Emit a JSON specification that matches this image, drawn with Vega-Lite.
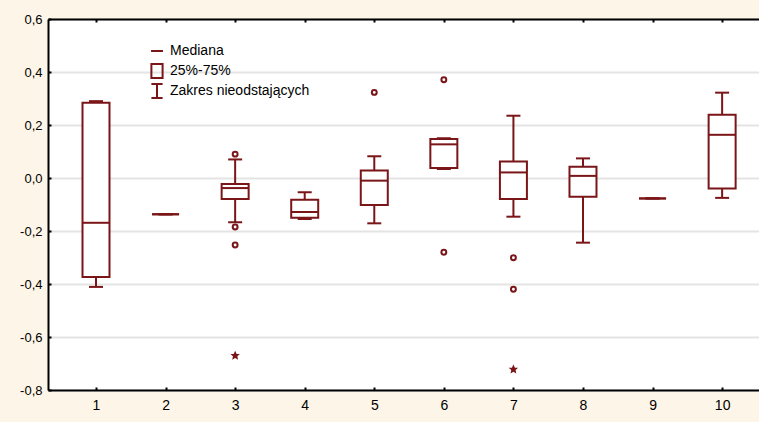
{
  "$schema": "https://vega.github.io/schema/vega-lite/v6.json",
  "width": 711,
  "height": 371,
  "autosize": {"type": "none"},
  "padding": {"left": 48, "top": 19, "right": 0, "bottom": 32},
  "background": "#FDF5E8",
  "view": {"fill": "white", "stroke": "white", "strokeWidth": 0},
  "config": {
    "view": {"fill": "white", "stroke": "white", "strokeWidth": 0},
    "font": "Liberation Sans"
  },
  "datasets": {
    "boxes": [
      {"cat": 1, "lower": -0.411, "q1": -0.374, "median": -0.169, "q3": 0.284, "upper": 0.290},
      {"cat": 2, "lower": -0.137, "q1": -0.137, "median": -0.137, "q3": -0.137, "upper": -0.137},
      {"cat": 3, "lower": -0.167, "q1": -0.079, "median": -0.038, "q3": -0.023, "upper": 0.070},
      {"cat": 4, "lower": -0.155, "q1": -0.150, "median": -0.128, "q3": -0.082, "upper": -0.054},
      {"cat": 5, "lower": -0.171, "q1": -0.102, "median": -0.010, "q3": 0.028, "upper": 0.082},
      {"cat": 6, "lower": 0.034, "q1": 0.038, "median": 0.127, "q3": 0.147, "upper": 0.150},
      {"cat": 7, "lower": -0.146, "q1": -0.079, "median": 0.021, "q3": 0.062, "upper": 0.235},
      {"cat": 8, "lower": -0.244, "q1": -0.071, "median": 0.008, "q3": 0.042, "upper": 0.074},
      {"cat": 9, "lower": -0.077, "q1": -0.077, "median": -0.077, "q3": -0.077, "upper": -0.077},
      {"cat": 10, "lower": -0.075, "q1": -0.040, "median": 0.163, "q3": 0.239, "upper": 0.322}
    ],
    "outliers": [
      {"cat": 3, "value": 0.090},
      {"cat": 3, "value": -0.185},
      {"cat": 3, "value": -0.253},
      {"cat": 5, "value": 0.323},
      {"cat": 6, "value": 0.371},
      {"cat": 6, "value": -0.280},
      {"cat": 7, "value": -0.301},
      {"cat": 7, "value": -0.420}
    ],
    "extremes": [
      {"cat": 3, "value": -0.670},
      {"cat": 7, "value": -0.722}
    ],
    "legend": [
      {"k": "Mediana"},
      {"k": "25%-75%"},
      {"k": "Zakres nieodstających"}
    ]
  },
  "layer": [
    {
      "data": {"name": "boxes"},
      "mark": {"type": "rule", "color": "#7A1518", "strokeWidth": 2},
      "encoding": {
        "x": {"field": "cat", "type": "quantitative", "scale": {"domain": [0.31, 10.53], "nice": false, "zero": false, "padding": 0},
          "axis": {"orient": "top", "labels": false, "title": null, "values": [1,2,3,4,5,6,7,8,9,10], "grid": false, "domainColor": "black", "domainWidth": 2, "tickColor": "black", "tickSize": -3, "tickWidth": 2}},
        "y": {"field": "lower", "type": "quantitative", "scale": {"domain": [-0.8, 0.6], "nice": false, "zero": false},
          "axis": {"title": null, "values": [-0.8,-0.6,-0.4,-0.2,0,0.2,0.4,0.6], "labelExpr": "replace(replace(format(datum.value,'.1f'),'.',','),'−','-')", "grid": true, "gridColor": "#e4e4e4", "gridWidth": 2, "domainColor": "black", "domainWidth": 2, "tickColor": "black", "tickSize": -3, "tickWidth": 2, "labelFontSize": 13, "labelColor": "black", "labelPadding": 9, "labelFont": "Liberation Sans"}},
        "y2": {"field": "q1"}
      }
    },
    {
      "data": {"name": "boxes"},
      "mark": {"type": "rule", "color": "#7A1518", "strokeWidth": 2},
      "encoding": {
        "x": {"field": "cat", "type": "quantitative", "axis": null},
        "y": {"field": "q3", "type": "quantitative"},
        "y2": {"field": "upper"}
      }
    },
    {
      "data": {"name": "boxes"},
      "mark": {"type": "bar", "fill": "white", "stroke": "#7A1518", "strokeWidth": 2, "size": 27, "opacity": 1},
      "encoding": {
        "x": {"field": "cat", "type": "quantitative",
          "axis": {"title": null, "values": [1,2,3,4,5,6,7,8,9,10], "format": "d", "grid": false, "domainColor": "black", "domainWidth": 2, "tickColor": "black", "tickSize": -3, "tickWidth": 2, "labelFontSize": 14, "labelColor": "black", "labelPadding": 11, "labelFont": "Liberation Sans"}},
        "y": {"field": "q1", "type": "quantitative"},
        "y2": {"field": "q3"}
      }
    },
    {
      "data": {"name": "boxes"},
      "mark": {"type": "tick", "orient": "horizontal", "color": "#7A1518", "size": 27, "thickness": 2, "opacity": 1},
      "encoding": {
        "x": {"field": "cat", "type": "quantitative", "axis": null},
        "y": {"field": "median", "type": "quantitative"}
      }
    },
    {
      "data": {"name": "boxes"},
      "mark": {"type": "tick", "orient": "horizontal", "color": "#7A1518", "size": 14, "thickness": 2, "opacity": 1},
      "encoding": {
        "x": {"field": "cat", "type": "quantitative", "axis": null},
        "y": {"field": "lower", "type": "quantitative"}
      }
    },
    {
      "data": {"name": "boxes"},
      "mark": {"type": "tick", "orient": "horizontal", "color": "#7A1518", "size": 14, "thickness": 2, "opacity": 1},
      "encoding": {
        "x": {"field": "cat", "type": "quantitative", "axis": null},
        "y": {"field": "upper", "type": "quantitative"}
      }
    },
    {
      "data": {"name": "outliers"},
      "mark": {"type": "point", "shape": "circle", "filled": false, "stroke": "#7A1518", "strokeWidth": 2, "size": 24, "opacity": 1},
      "encoding": {
        "x": {"field": "cat", "type": "quantitative", "axis": null},
        "y": {"field": "value", "type": "quantitative"}
      }
    },
    {
      "data": {"name": "extremes"},
      "mark": {"type": "point", "shape": "M0,-1L0.3,-0.35L0.95,-0.31L0.45,0.15L0.59,0.85L0,0.5L-0.59,0.85L-0.45,0.15L-0.95,-0.31L-0.3,-0.35Z", "filled": true, "fill": "#7A1518", "stroke": "#7A1518", "strokeWidth": 1.5, "size": 38, "opacity": 1},
      "encoding": {
        "x": {"field": "cat", "type": "quantitative", "axis": null},
        "y": {"field": "value", "type": "quantitative"}
      }
    },
    {
      "data": {"name": "legend"},
      "mark": {"type": "point", "opacity": 0, "size": 196},
      "encoding": {
        "shape": {
          "field": "k", "type": "nominal",
          "scale": {
            "domain": ["Mediana", "25%-75%", "Zakres nieodstających"],
            "range": ["M-0.85,0H0.85", "M-0.8,-1H0.8V1H-0.8Z", "M-0.8,-1H0.8M0,-1V1M-0.8,1H0.8"]
          },
          "legend": {
            "title": null,
            "orient": "none",
            "legendX": 101,
            "legendY": 23,
            "padding": 0,
            "rowPadding": 2,
            "clipHeight": 18,
            "symbolSize": 196,
            "symbolOffset": 0,
            "labelOffset": 5,
            "labelFontSize": 14,
            "labelFont": "Liberation Sans",
            "labelColor": "black",
            "symbolStrokeWidth": 2,
            "symbolStrokeColor": "#7A1518",
            "symbolFillColor": "#FDF5E8",
            "symbolOpacity": 1,
            "encode": {
              "symbols": {
                "update": {
                  "fill": {"value": "#FDF5E8"},
                  "stroke": {"value": "#7A1518"},
                  "strokeWidth": {"value": 2},
                  "opacity": {"value": 1}
                }
              }
            }
          }
        }
      }
    }
  ],
  "resolve": {"axis": {"x": "independent"}}
}
